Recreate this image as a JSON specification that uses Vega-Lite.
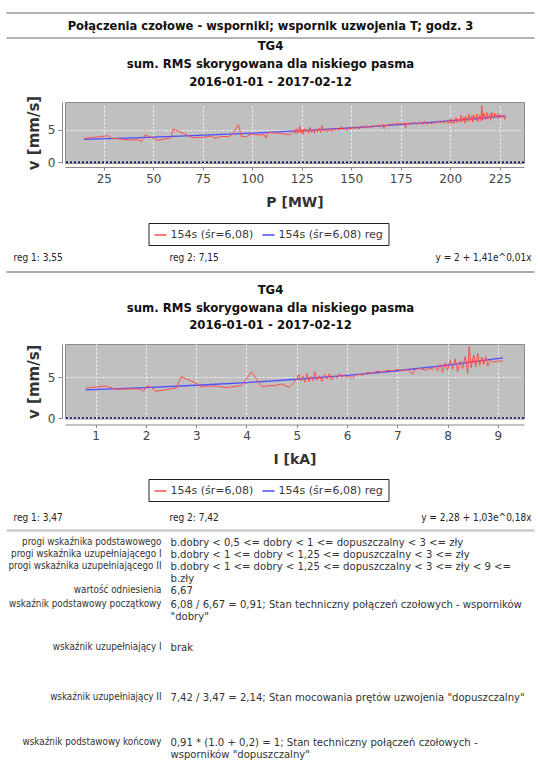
{
  "$schema": "https://vega.github.io/schema/vega-lite/v6.json",
  "background": "white",
  "padding": {"left": 5, "top": 12, "right": 0, "bottom": 0},
  "bounds": "flush",
  "spacing": 0,
  "resolve": {"scale": {"color": "independent"}, "legend": {"color": "independent"}},
  "config": {
    "font": "DejaVu Sans",
    "view": {"stroke": null},
    "axis": {"labelFont": "DejaVu Sans", "labelFontSize": 12, "labelColor": "#444444", "titleFont": "DejaVu Sans", "titleFontSize": 14, "titleFontWeight": "bold", "titleColor": "#333333", "domainColor": "#888888", "tickColor": "#888888", "gridColor": "#ffffff", "gridDash": [2, 2], "gridOpacity": 0.9},
    "axisX": {"offset": 4, "tickSize": 3, "labelPadding": 3, "titlePadding": 11},
    "axisY": {"offset": 3, "tickSize": 4, "labelPadding": 3, "titlePadding": 6, "titleFontSize": 15}
  },
  "datasets": {
    "p_meas": [
      {"P":15,"v":3.7},{"P":20,"v":3.85},{"P":27,"v":4.1},{"P":29,"v":3.7},{"P":33,"v":3.6},{"P":38,"v":3.45},{"P":42,"v":3.5},{"P":44,"v":3.2},{"P":44.5,"v":3.6},{"P":46,"v":4.25},{"P":49,"v":3.85},{"P":52,"v":3.4},{"P":56,"v":3.6},{"P":59,"v":3.8},{"P":60,"v":5.15},{"P":65,"v":4.5},{"P":70,"v":3.8},{"P":74,"v":3.85},{"P":79,"v":4.0},{"P":80,"v":4.1},{"P":81,"v":3.7},{"P":84,"v":4.0},{"P":88,"v":3.95},{"P":90,"v":4.3},{"P":93,"v":5.8},{"P":94.5,"v":4.0},{"P":97,"v":3.95},{"P":99,"v":4.3},{"P":101,"v":4.35},{"P":104,"v":4.2},{"P":106,"v":4.3},{"P":107,"v":3.7},{"P":108,"v":4.6},{"P":112,"v":4.5},{"P":117,"v":4.35},{"P":119,"v":4.25},{"P":120,"v":4.6},
      {"P":121,"v":4.9},{"P":121.6,"v":4.5},{"P":122.2,"v":5.2},{"P":122.8,"v":4.4},{"P":123.4,"v":4.8},{"P":124,"v":5.6},{"P":124.6,"v":4.5},{"P":125.2,"v":5.0},{"P":125.8,"v":4.3},{"P":126.4,"v":5.2},{"P":127,"v":4.7},{"P":127.8,"v":5.1},{"P":128.5,"v":4.5},{"P":129.2,"v":5.4},{"P":130,"v":4.6},{"P":130.8,"v":5.0},{"P":131.5,"v":4.5},{"P":132.2,"v":5.1},{"P":133,"v":4.7},{"P":133.8,"v":5.3},{"P":134.5,"v":4.6},{"P":135.2,"v":5.7},{"P":136,"v":4.8},{"P":137,"v":5.1},{"P":138,"v":4.7},{"P":139,"v":5.3},{"P":140,"v":4.7},{"P":141,"v":5.2},{"P":142,"v":4.9},{"P":143,"v":5.3},{"P":144,"v":4.9},{"P":145,"v":5.5},{"P":146,"v":5.0},{"P":147,"v":5.2},{"P":148,"v":4.9},{"P":149,"v":5.4},{"P":150,"v":5.1},{"P":151,"v":5.5},{"P":152,"v":5.2},{"P":153,"v":5.4},{"P":154,"v":5.1},{"P":155,"v":5.6},{"P":156,"v":5.3},{"P":157,"v":5.7},{"P":158,"v":5.4},{"P":159,"v":5.5},{"P":160,"v":5.4},{"P":161,"v":5.7},{"P":162,"v":5.5},{"P":163,"v":5.6},{"P":164,"v":5.8},{"P":165,"v":5.5},{"P":166,"v":5.9},{"P":166.5,"v":5.2},{"P":167,"v":5.8},{"P":168,"v":5.6},{"P":169,"v":5.9},{"P":170,"v":5.8},{"P":171,"v":6.0},{"P":172,"v":5.8},{"P":173,"v":6.1},{"P":174,"v":5.9},{"P":175,"v":6.0},{"P":176,"v":5.9},{"P":177,"v":6.1},{"P":177.5,"v":5.3},{"P":178,"v":6.0},{"P":179,"v":5.9},{"P":180,"v":6.1},{"P":181,"v":6.0},{"P":182,"v":6.2},{"P":183,"v":5.9},{"P":184,"v":6.0},{"P":185,"v":6.2},{"P":186,"v":5.8},{"P":187,"v":6.4},{"P":188,"v":5.9},{"P":189,"v":6.0},{"P":190,"v":6.1},{"P":191,"v":5.9},{"P":192,"v":6.2},{"P":193,"v":6.0},{"P":194,"v":6.4},{"P":195,"v":6.1},{"P":196,"v":6.3},{"P":197,"v":6.0},{"P":198,"v":6.4},{"P":199,"v":6.0},{"P":200,"v":6.7},{"P":200.5,"v":5.9},{"P":201,"v":6.6},{"P":202,"v":6.0},{"P":203,"v":6.9},{"P":203.5,"v":6.1},{"P":204,"v":6.7},{"P":205,"v":6.2},{"P":205.5,"v":7.3},{"P":206,"v":6.3},{"P":207,"v":7.0},{"P":207.5,"v":6.0},{"P":208,"v":7.1},{"P":209,"v":6.3},{"P":209.5,"v":7.4},{"P":210,"v":6.4},{"P":211,"v":7.2},{"P":211.5,"v":6.2},{"P":212,"v":7.3},{"P":213,"v":6.5},{"P":213.5,"v":7.5},{"P":214,"v":6.3},{"P":215,"v":7.3},{"P":215.5,"v":6.4},{"P":216,"v":8.8},{"P":216.5,"v":6.5},{"P":217,"v":7.6},{"P":218,"v":6.6},{"P":218.5,"v":7.7},{"P":219,"v":6.7},{"P":220,"v":7.5},{"P":220.5,"v":6.5},{"P":221,"v":7.7},{"P":222,"v":6.8},{"P":222.5,"v":7.6},{"P":223,"v":6.9},{"P":224,"v":7.5},{"P":224.5,"v":6.7},{"P":225,"v":7.4},{"P":226,"v":6.9},{"P":227,"v":7.3},{"P":227.5,"v":6.6},{"P":228,"v":7.0}
    ],
    "p_reg": [
      {"P":15,"v":3.55},{"P":40,"v":3.78},{"P":70,"v":4.11},{"P":100,"v":4.5},{"P":130,"v":4.97},{"P":160,"v":5.51},{"P":190,"v":6.16},{"P":210,"v":6.65},{"P":228,"v":7.15}
    ],
    "i_meas": [
      {"I":0.8,"v":3.7},{"I":1.2,"v":3.95},{"I":1.4,"v":3.55},{"I":1.8,"v":3.6},{"I":1.9,"v":3.55},{"I":1.95,"v":3.3},{"I":2.02,"v":4.0},{"I":2.1,"v":3.8},{"I":2.2,"v":3.3},{"I":2.5,"v":3.6},{"I":2.6,"v":3.7},{"I":2.7,"v":5.1},{"I":3.0,"v":4.3},{"I":3.1,"v":3.9},{"I":3.4,"v":3.95},{"I":3.6,"v":3.75},{"I":3.9,"v":4.0},{"I":4.1,"v":5.7},{"I":4.3,"v":3.9},{"I":4.6,"v":4.05},{"I":4.7,"v":4.2},{"I":4.85,"v":3.8},{"I":4.95,"v":4.4},{"I":5.0,"v":4.8},
      {"I":5.04,"v":5.4},{"I":5.08,"v":4.6},{"I":5.12,"v":5.2},{"I":5.16,"v":4.4},{"I":5.2,"v":5.5},{"I":5.24,"v":4.5},{"I":5.28,"v":5.1},{"I":5.32,"v":4.6},{"I":5.36,"v":5.7},{"I":5.4,"v":4.7},{"I":5.45,"v":5.2},{"I":5.5,"v":4.5},{"I":5.55,"v":5.4},{"I":5.6,"v":4.8},{"I":5.65,"v":5.5},{"I":5.7,"v":4.7},{"I":5.75,"v":5.2},{"I":5.8,"v":4.9},{"I":5.85,"v":5.5},{"I":5.9,"v":5.0},{"I":5.95,"v":5.3},{"I":6.0,"v":5.0},{"I":6.05,"v":5.2},{"I":6.1,"v":4.9},{"I":6.2,"v":5.4},{"I":6.3,"v":5.3},{"I":6.4,"v":5.6},{"I":6.5,"v":5.5},{"I":6.6,"v":5.8},{"I":6.7,"v":5.6},{"I":6.8,"v":5.9},{"I":6.9,"v":5.8},{"I":7.0,"v":6.0},{"I":7.1,"v":5.8},{"I":7.2,"v":6.05},{"I":7.3,"v":5.4},{"I":7.35,"v":6.0},{"I":7.45,"v":6.1},{"I":7.55,"v":5.9},{"I":7.65,"v":6.1},{"I":7.7,"v":6.0},{"I":7.75,"v":6.4},{"I":7.8,"v":5.8},{"I":7.85,"v":6.6},{"I":7.9,"v":5.6},{"I":7.95,"v":6.8},{"I":8.0,"v":5.9},{"I":8.05,"v":7.1},{"I":8.1,"v":6.0},{"I":8.15,"v":7.3},{"I":8.2,"v":5.7},{"I":8.25,"v":7.0},{"I":8.3,"v":6.1},{"I":8.35,"v":7.6},{"I":8.4,"v":5.5},{"I":8.43,"v":8.8},{"I":8.47,"v":6.2},{"I":8.52,"v":7.8},{"I":8.56,"v":6.3},{"I":8.6,"v":8.0},{"I":8.64,"v":6.5},{"I":8.68,"v":7.5},{"I":8.72,"v":6.6},{"I":8.76,"v":7.6},{"I":8.8,"v":6.4},{"I":8.85,"v":7.1},{"I":8.9,"v":6.9},{"I":9.0,"v":7.0},{"I":9.1,"v":7.05}
    ],
    "i_reg": [
      {"I":0.8,"v":3.47},{"I":2,"v":3.75},{"I":3,"v":4.04},{"I":4,"v":4.37},{"I":5,"v":4.78},{"I":6,"v":5.26},{"I":7,"v":5.83},{"I":8,"v":6.52},{"I":9.1,"v":7.42}
    ],
    "table": [
      {"label":"progi wskaźnika podstawowego","value":"b.dobry < 0,5 <= dobry < 1 <= dopuszczalny < 3 <= zły","line":0},
      {"label":"progi wskaźnika uzupełniającego I","value":"b.dobry < 1 <= dobry < 1,25 <= dopuszczalny < 3 <= zły","line":1},
      {"label":"progi wskaźnika uzupełniającego II","value":"b.dobry < 1 <= dobry < 1,25 <= dopuszczalny < 3 <= zły < 9 <=\nb.zły","line":2},
      {"label":"wartość odniesienia","value":"6,67","line":4},
      {"label":"wskaźnik podstawowy początkowy","value":"6,08 / 6,67 = 0,91; Stan techniczny połączeń czołowych - wsporników\n\"dobry\"","line":5.17},
      {"label":"wskaźnik uzupełniający I","value":"brak","line":8.83},
      {"label":"wskaźnik uzupełniający II","value":"7,42 / 3,47 = 2,14; Stan mocowania prętów uzwojenia \"dopuszczalny\"","line":12.92},
      {"label":"wskaźnik podstawowy końcowy","value":"0,91 * (1.0 + 0,2) = 1; Stan techniczny połączeń czołowych -\nwsporników \"dopuszczalny\"","line":16.67}
    ]
  },
  "vconcat": [
    {
      "width": 459, "height": 89,
      "data": {"values": [{"title": "Połączenia czołowe - wsporniki; wspornik uzwojenia T; godz. 3"}]},
      "layer": [
        {"mark": {"type": "rule", "color": "#999999", "strokeWidth": 1.5}, "encoding": {"x": {"value": -58.5}, "x2": {"value": 469.5}, "y": {"value": 0}}},
        {"mark": {"type": "rule", "color": "#999999", "strokeWidth": 1.5}, "encoding": {"x": {"value": -58.5}, "x2": {"value": 469.5}, "y": {"value": 25}}},
        {"mark": {"type": "text", "font": "DejaVu Sans Condensed, DejaVu Sans", "fontWeight": "bold", "fontSize": 12.8, "color": "#111111", "baseline": "middle"}, "encoding": {"x": {"value": 205.5}, "y": {"value": 12.5}, "text": {"field": "title"}}}
      ]
    },
    {
      "width": 459, "height": 61,
      "view": {"fill": "#c0c0c0", "stroke": "#8c8c8c"},
      "title": {"text": ["TG4", "sum. RMS skorygowana dla niskiego pasma", "2016-01-01 - 2017-02-12"], "anchor": "middle", "dx": -24, "offset": 6, "font": "DejaVu Sans Condensed, DejaVu Sans", "fontSize": 13, "fontWeight": "bold", "lineHeight": 18, "color": "#111111"},
      "layer": [
        {"data": {"name": "p_reg"}, "mark": {"type": "line", "strokeWidth": 1.3},
         "encoding": {
           "x": {"field": "P", "type": "quantitative", "scale": {"domain": [5.4, 237.3], "nice": false, "zero": false}, "axis": {"values": [25, 50, 75, 100, 125, 150, 175, 200, 225], "title": "P [MW]"}},
           "y": {"field": "v", "type": "quantitative", "scale": {"domain": [-0.1, 9.3], "nice": false}, "axis": {"values": [0, 5], "title": "v [mm/s]"}},
           "color": {"datum": "154s (śr=6,08) reg", "type": "nominal", "scale": {"domain": ["154s (śr=6,08)", "154s (śr=6,08) reg"], "range": ["#ff4d4d", "#4d4dff"]},
             "legend": {"orient": "none", "legendX": 83.5, "legendY": 121, "direction": "horizontal", "title": null, "symbolType": "stroke", "symbolStrokeWidth": 1.5, "symbolSize": 150, "labelFont": "DejaVu Sans", "labelFontSize": 11, "labelColor": "#3a3a3a", "strokeColor": "#222222", "fillColor": "#ffffff", "padding": 5, "columnPadding": 5, "labelOffset": 3}}
         }},
        {"data": {"name": "p_meas"}, "mark": {"type": "line", "strokeWidth": 1},
         "encoding": {"x": {"field": "P", "type": "quantitative"}, "y": {"field": "v", "type": "quantitative"}, "color": {"datum": "154s (śr=6,08)", "type": "nominal"}}},
        {"data": {"values": [{}]}, "mark": {"type": "rule", "color": "#000080", "strokeDash": [2, 2], "strokeWidth": 1.5}, "encoding": {"y": {"datum": 0, "type": "quantitative"}}}
      ]
    },
    {
      "width": 459, "height": 181,
      "data": {"values": [{"left": "reg 1: 3,55", "mid": "reg 2: 7,15", "right": "y = 2 + 1,41e^0,01x"}]},
      "layer": [
        {"mark": {"type": "text", "align": "left", "baseline": "middle", "font": "DejaVu Sans Condensed, DejaVu Sans", "fontSize": 10, "color": "#222222"}, "encoding": {"x": {"value": -51.5}, "y": {"value": 95}, "text": {"field": "left"}}},
        {"mark": {"type": "text", "align": "left", "baseline": "middle", "font": "DejaVu Sans Condensed, DejaVu Sans", "fontSize": 10, "color": "#222222"}, "encoding": {"x": {"value": 104.5}, "y": {"value": 95}, "text": {"field": "mid"}}},
        {"mark": {"type": "text", "align": "right", "baseline": "middle", "font": "DejaVu Sans Condensed, DejaVu Sans", "fontSize": 10, "color": "#222222"}, "encoding": {"x": {"value": 466.5}, "y": {"value": 95}, "text": {"field": "right"}}},
        {"mark": {"type": "rule", "color": "#aaaaaa", "strokeWidth": 2}, "encoding": {"x": {"value": -58.5}, "x2": {"value": 469.5}, "y": {"value": 109}}}
      ]
    },
    {
      "width": 459, "height": 74.5,
      "view": {"fill": "#c0c0c0", "stroke": "#8c8c8c"},
      "title": {"text": ["TG4", "sum. RMS skorygowana dla niskiego pasma", "2016-01-01 - 2017-02-12"], "anchor": "middle", "dx": -24, "offset": 12, "font": "DejaVu Sans Condensed, DejaVu Sans", "fontSize": 13, "fontWeight": "bold", "lineHeight": 17.5, "color": "#111111"},
      "layer": [
        {"data": {"name": "i_reg"}, "mark": {"type": "line", "strokeWidth": 1.3},
         "encoding": {
           "x": {"field": "I", "type": "quantitative", "scale": {"domain": [0.39, 9.52], "nice": false, "zero": false}, "axis": {"values": [1, 2, 3, 4, 5, 6, 7, 8, 9], "title": "I [kA]", "offset": 6}},
           "y": {"field": "v", "type": "quantitative", "scale": {"domain": [-0.05, 9.12], "nice": false}, "axis": {"values": [0, 5], "title": "v [mm/s]"}},
           "color": {"datum": "154s (śr=6,08) reg", "type": "nominal", "scale": {"domain": ["154s (śr=6,08)", "154s (śr=6,08) reg"], "range": ["#ff4d4d", "#4d4dff"]},
             "legend": {"orient": "none", "legendX": 83.5, "legendY": 135, "direction": "horizontal", "title": null, "symbolType": "stroke", "symbolStrokeWidth": 1.5, "symbolSize": 150, "labelFont": "DejaVu Sans", "labelFontSize": 11, "labelColor": "#3a3a3a", "strokeColor": "#222222", "fillColor": "#ffffff", "padding": 5, "columnPadding": 5, "labelOffset": 3}}
         }},
        {"data": {"name": "i_meas"}, "mark": {"type": "line", "strokeWidth": 1},
         "encoding": {"x": {"field": "I", "type": "quantitative"}, "y": {"field": "v", "type": "quantitative"}, "color": {"datum": "154s (śr=6,08)", "type": "nominal"}}},
        {"data": {"values": [{}]}, "mark": {"type": "rule", "color": "#000080", "strokeDash": [2, 2], "strokeWidth": 1.5}, "encoding": {"y": {"datum": 0, "type": "quantitative"}}}
      ]
    },
    {
      "width": 459, "height": 112.5,
      "data": {"values": [{"left": "reg 1: 3,47", "mid": "reg 2: 7,42", "right": "y = 2,28 + 1,03e^0,18x"}]},
      "layer": [
        {"mark": {"type": "text", "align": "left", "baseline": "middle", "font": "DejaVu Sans Condensed, DejaVu Sans", "fontSize": 10, "color": "#222222"}, "encoding": {"x": {"value": -51.5}, "y": {"value": 98.5}, "text": {"field": "left"}}},
        {"mark": {"type": "text", "align": "left", "baseline": "middle", "font": "DejaVu Sans Condensed, DejaVu Sans", "fontSize": 10, "color": "#222222"}, "encoding": {"x": {"value": 104.5}, "y": {"value": 98.5}, "text": {"field": "mid"}}},
        {"mark": {"type": "text", "align": "right", "baseline": "middle", "font": "DejaVu Sans Condensed, DejaVu Sans", "fontSize": 10, "color": "#222222"}, "encoding": {"x": {"value": 466.5}, "y": {"value": 98.5}, "text": {"field": "right"}}},
        {"mark": {"type": "rule", "color": "#cccccc", "strokeWidth": 2.5}, "encoding": {"x": {"value": -58.5}, "x2": {"value": 469.5}, "y": {"value": 111.5}}}
      ]
    },
    {
      "width": 459, "height": 230,
      "data": {"name": "table"},
      "layer": [
        {"mark": {"type": "text", "align": "right", "baseline": "top", "font": "DejaVu Sans Condensed, DejaVu Sans", "fontSize": 9.8, "lineHeight": 12, "color": "#333333", "lineBreak": "\n"},
         "encoding": {"x": {"value": 96.5}, "y": {"field": "line", "type": "quantitative", "scale": {"domain": [0, 20], "range": [4.5, 244.5]}, "axis": null}, "text": {"field": "label"}}},
        {"mark": {"type": "text", "align": "left", "baseline": "top", "font": "DejaVu Sans Condensed, DejaVu Sans", "fontSize": 11.2, "lineHeight": 12, "color": "#333333", "lineBreak": "\n"},
         "encoding": {"x": {"value": 105.5}, "y": {"field": "line", "type": "quantitative"}, "text": {"field": "value"}}}
      ]
    }
  ]
}
